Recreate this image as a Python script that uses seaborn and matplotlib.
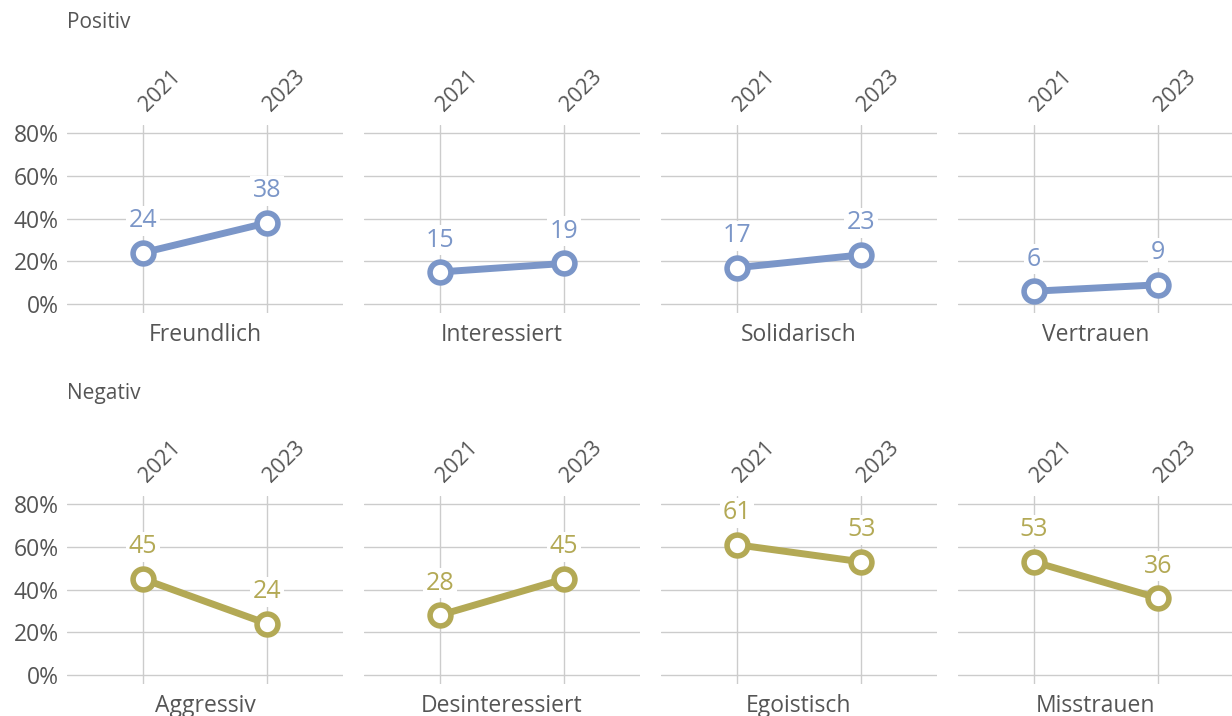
import pandas as pd
import matplotlib.pyplot as plt
import seaborn as sns

# Data
years = ['2021', '2023']
pos_cats = ['Freundlich', 'Interessiert', 'Solidarisch', 'Vertrauen']
pos_2021 = [24, 15, 17, 6]
pos_2023 = [38, 19, 23, 9]
neg_cats = ['Aggressiv', 'Desinteressiert', 'Egoistisch', 'Misstrauen']
neg_2021 = [45, 28, 61, 53]
neg_2023 = [24, 45, 53, 36]
row_titles = ['Positiv', 'Negativ']
y_ticks = [0, 20, 40, 60, 80]

blue = '#7b96c8'
olive = '#b3a955'
text_col = '#555555'
grid_col = '#cccccc'

sns.set_theme(style='white')
plt.rcParams['font.family'] = ['Open Sans', 'DejaVu Sans']

rows = []
for cats, v1, v2, group in [(pos_cats, pos_2021, pos_2023, 'Positiv'),
                            (neg_cats, neg_2021, neg_2023, 'Negativ')]:
    for c, a, b in zip(cats, v1, v2):
        rows.append({'group': group, 'cat': c, 'year': years[0], 'value': a})
        rows.append({'group': group, 'cat': c, 'year': years[1], 'value': b})
df = pd.DataFrame(rows)

fig = plt.figure(figsize=(12.32, 7.16), dpi=100)

W, H = 1232, 716
ax_w = 276
ax_h = 188
tops = [125, 496]
colors = {'Positiv': blue, 'Negativ': olive}

for r, (group, cats) in enumerate([('Positiv', pos_cats), ('Negativ', neg_cats)]):
    fig.text(67 / W, 1 - (tops[r] - 103) / H, row_titles[r], fontsize=15,
             color=text_col, ha='left', va='center')
    for i, cat in enumerate(cats):
        x0 = 67 + 297 * i
        ax = fig.add_axes([x0 / W, 1 - (tops[r] + ax_h) / H, ax_w / W, ax_h / H])
        sub = df[(df['group'] == group) & (df['cat'] == cat)].copy()
        sub['x'] = sub['year'].map({years[0]: 0, years[1]: 1})
        col = colors[group]
        sns.lineplot(data=sub, x='x', y='value', ax=ax, color=col, linewidth=5,
                     marker='o', markersize=15, markerfacecolor='white',
                     markeredgecolor=col, markeredgewidth=4, zorder=5)
        for _, row in sub.iterrows():
            ax.annotate(f"{row['value']:.0f}", (row['x'], row['value']),
                        xytext=(0, 23), textcoords='offset points',
                        ha='center', va='center', fontsize=18, color=col,
                        bbox=dict(boxstyle='square,pad=0.1', fc='white', ec='none'),
                        zorder=6)
        ax.set_xlim(-0.61, 1.61)
        ax.set_ylim(-4.2, 83.8)
        ax.set_yticks(y_ticks)
        ax.set_xticks([0, 1])
        ax.xaxis.tick_top()
        ax.set_xticklabels(years, rotation=45, ha='left', va='center',
                           rotation_mode='anchor', fontsize=15.5, color=text_col)
        ax.tick_params(axis='x', length=0, pad=12)
        ax.tick_params(axis='y', length=0, pad=6)
        if i == 0:
            ax.set_yticklabels([f'{t}%' for t in y_ticks], fontsize=16.5, color=text_col)
        else:
            ax.set_yticklabels([])
        ax.set_xlabel(cat, fontsize=16.5, color=text_col, labelpad=7)
        ax.set_ylabel('')
        ax.grid(True, color=grid_col, linewidth=1)
        ax.set_axisbelow(True)
        for s in ax.spines.values():
            s.set_visible(False)
        ax.patch.set_alpha(0)

fig.savefig('out.png', dpi=100)
